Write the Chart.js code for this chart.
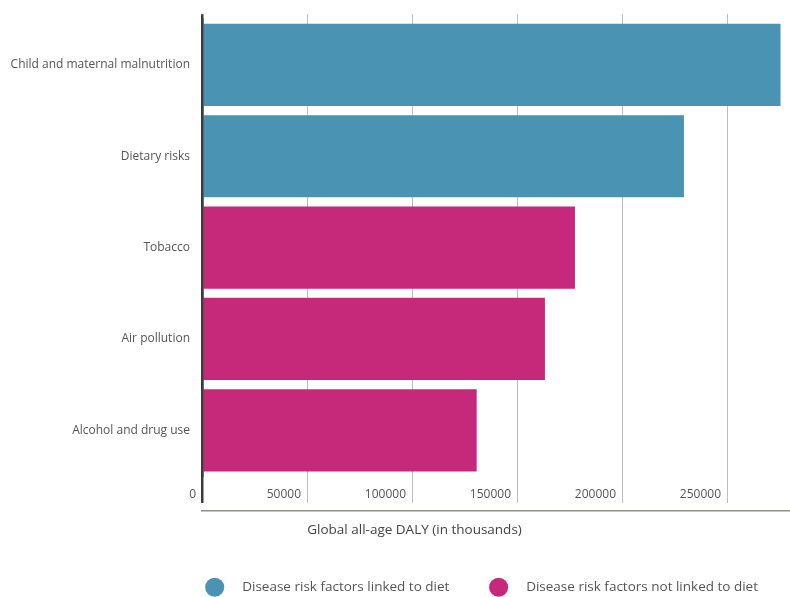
<!DOCTYPE html>
<html>
<head>
<meta charset="utf-8">
<script src="https://cdn.jsdelivr.net/npm/chart.js@4"></script>
<style>
  body { margin: 0; background: #fff; }
  #wrap { width: 790px; height: 597px; }
</style>
</head>
<body>
<div id="wrap"><canvas id="chart"></canvas></div>
<script>
const categories = ['Child and maternal malnutrition', 'Dietary risks', 'Tobacco', 'Air pollution', 'Alcohol and drug use'];
const linkedToDiet = [275500, 229500, null, null, null];
const notLinkedToDiet = [null, null, 177600, 163300, 130800];
const seriesNames = ['Disease risk factors linked to diet', 'Disease risk factors not linked to diet'];
const tickValues = [0, 50000, 100000, 150000, 200000, 250000];
const axisMax = 280000;
const axisTitle = 'Global all-age DALY (in thousands)';

const FONT = "'Open Sans', sans-serif";
const DARK = '#3c3c3c';
const gridColor = c => c.tick && c.tick.value === 0 ? DARK : '#bdbdbd';
const gridWidth = c => c.tick && c.tick.value === 0 ? 2.5 : 1;
const setTicks = s => { s.ticks = tickValues.map(v => ({ value: v })); };

new Chart(document.getElementById('chart'), {
  type: 'bar',
  data: {
    labels: categories,
    datasets: [
      { label: seriesNames[0], data: linkedToDiet, backgroundColor: '#4a93b3' },
      { label: seriesNames[1], data: notLinkedToDiet, backgroundColor: '#c7297a' }
    ]
  },
  options: {
    indexAxis: 'y',
    responsive: true,
    maintainAspectRatio: false,
    animation: false,
    grouped: false,
    barPercentage: 1,
    categoryPercentage: 0.9,
    borderWidth: 0,
    layout: { padding: { top: 12.5, bottom: -7, left: 0, right: 0 } },
    scales: {
      y: {
        afterFit: s => { s.width = 202; },
        grid: { display: false, drawTicks: false },
        border: { display: true, color: DARK, width: 2.5, z: 1 },
        ticks: { color: '#555', padding: 12, font: { family: FONT, size: 12 } }
      },
      x: {
        position: 'bottom',
        min: 0, max: axisMax,
        afterBuildTicks: setTicks,
        afterFit: s => { s.height = 35; },
        border: { display: false },
        grid: { color: gridColor, lineWidth: gridWidth, tickLength: 27 },
        ticks: {
          autoSkip: false, maxRotation: 0,
          align: 'end', labelOffset: -6, padding: -15.5,
          callback: v => String(v),
          color: '#555', font: { family: FONT, size: 12 }
        }
      },
      xTop: {
        axis: 'x', position: 'top',
        min: 0, max: axisMax,
        afterBuildTicks: setTicks,
        border: { display: false },
        grid: { color: gridColor, lineWidth: gridWidth, tickLength: 5, drawOnChartArea: false },
        ticks: { display: false }
      },
      xLine: {
        axis: 'x', position: 'bottom', weight: 1,
        min: 0, max: axisMax,
        border: { display: true, color: '#8f8f84', width: 1.5 },
        grid: { display: false, drawTicks: false },
        ticks: { display: false },
        title: {
          display: true, align: 'start',
          text: ' '.repeat(30) + axisTitle,
          color: '#444', font: { family: FONT, size: 13.5 },
          padding: { top: 11, bottom: 10.3 }
        }
      }
    },
    plugins: {
      tooltip: { enabled: false },
      legend: {
        position: 'bottom',
        align: 'end',
        labels: {
          usePointStyle: true,
          pointStyle: 'circle',
          padding: 32,
          color: '#555',
          font: { family: FONT, size: 13.5 },
          generateLabels: chart => Chart.defaults.plugins.legend.labels.generateLabels(chart)
            .map((item, i) => ({ ...item, text: '    ' + item.text + (i === 0 ? '   ' : '') }))
        }
      }
    }
  }
});
</script>
</body>
</html>
